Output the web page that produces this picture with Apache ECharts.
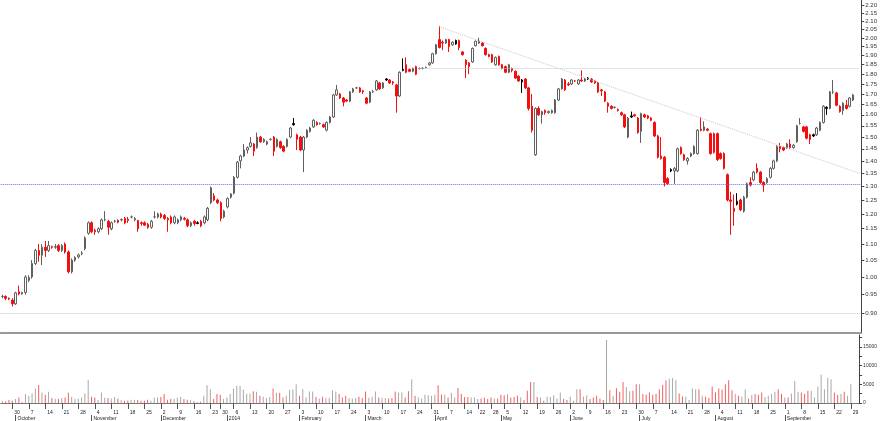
<!DOCTYPE html>
<html>
<head>
<meta charset="utf-8">
<script src="https://cdn.jsdelivr.net/npm/echarts@6/dist/echarts.min.js"></script>
<style>
html,body{margin:0;padding:0;background:#fff;}
#chart{width:880px;height:421px;}
</style>
</head>
<body>
<div id="chart"></div>
<script>
// ---- categories: trading days (weekdays minus exchange holidays) ----
const startDate = '2013-09-25';
const endDate = '2014-10-01';
const holidays = ['2013-12-25','2013-12-26','2014-01-01','2014-04-18','2014-04-21','2014-05-01'];
const monthNames = ['2014','February','March','April','May','June','July','August','September','October','November','December'];

// ---- price data: [open, close, low, high] ----
const ohlc = [
[0.945,0.945,0.94,0.95],[0.945,0.94,0.935,0.948],[0.94,0.938,0.935,0.942],[0.935,0.925,0.918,0.94],[0.925,0.955,0.922,0.958],
[0.958,0.952,0.948,0.975],[0.952,0.956,0.95,0.958],[0.956,1.0,0.95,1.005],[0.99,0.998,0.985,1.005],[1.0,1.04,0.995,1.05],
[1.04,1.08,1.035,1.085],[1.08,1.065,1.045,1.1],[1.065,1.09,1.035,1.1],[1.09,1.08,1.06,1.11],[1.08,1.095,1.075,1.11],
[1.092,1.09,1.085,1.095],[1.09,1.092,1.085,1.1],[1.095,1.08,1.075,1.1],[1.08,1.095,1.075,1.1],[1.1,1.075,1.07,1.105],
[1.075,1.015,1.01,1.08],[1.015,1.05,1.01,1.055],[1.05,1.058,1.045,1.062],[1.06,1.066,1.055,1.07],[1.07,1.072,1.065,1.078],
[1.085,1.12,1.08,1.125],[1.135,1.17,1.13,1.175],[1.17,1.14,1.135,1.175],[1.145,1.14,1.13,1.15],[1.14,1.15,1.135,1.155],
[1.15,1.18,1.145,1.185],[1.18,1.181,1.175,1.21],[1.175,1.155,1.13,1.18],[1.15,1.17,1.145,1.175],[1.175,1.176,1.17,1.18],
[1.178,1.172,1.168,1.182],[1.18,1.181,1.175,1.185],[1.185,1.17,1.165,1.19],[1.182,1.178,1.17,1.19],[1.19,1.19,1.185,1.195],
[1.18,1.185,1.175,1.19],[1.178,1.15,1.14,1.18],[1.17,1.168,1.16,1.175],[1.17,1.162,1.16,1.175],[1.165,1.155,1.15,1.17],
[1.155,1.175,1.15,1.18],[1.19,1.19,1.185,1.21],[1.19,1.2,1.185,1.205],[1.2,1.19,1.185,1.205],[1.195,1.185,1.18,1.2],
[1.185,1.18,1.14,1.19],[1.19,1.17,1.165,1.195],[1.17,1.19,1.165,1.195],[1.17,1.18,1.165,1.185],[1.18,1.19,1.175,1.195],
[1.185,1.182,1.178,1.19],[1.18,1.16,1.155,1.185],[1.16,1.17,1.155,1.175],[1.175,1.168,1.16,1.18],[1.17,1.168,1.165,1.175],
[1.175,1.16,1.155,1.18],[1.17,1.19,1.165,1.195],[1.18,1.22,1.175,1.225],[1.24,1.295,1.235,1.30],[1.265,1.25,1.245,1.275],
[1.25,1.24,1.235,1.255],[1.24,1.185,1.175,1.245],[1.19,1.21,1.185,1.215],[1.225,1.255,1.22,1.26],[1.26,1.272,1.255,1.275],
[1.275,1.335,1.27,1.34],[1.335,1.395,1.33,1.40],[1.40,1.42,1.37,1.425],[1.42,1.445,1.415,1.47],[1.445,1.455,1.43,1.46],
[1.46,1.475,1.455,1.50],[1.47,1.44,1.42,1.475],[1.455,1.50,1.45,1.52],[1.50,1.48,1.475,1.505],[1.48,1.49,1.475,1.495],
[1.47,1.48,1.465,1.485],[1.49,1.49,1.485,1.495],[1.50,1.44,1.42,1.505],[1.46,1.49,1.455,1.495],[1.48,1.455,1.45,1.485],
[1.46,1.44,1.435,1.465],[1.46,1.49,1.455,1.495],[1.50,1.54,1.495,1.545],[1.56,1.555,1.55,1.585],[1.49,1.51,1.445,1.515],
[1.50,1.445,1.44,1.505],[1.445,1.50,1.355,1.505],[1.50,1.53,1.495,1.535],[1.525,1.54,1.52,1.545],[1.545,1.575,1.54,1.58],
[1.565,1.555,1.55,1.57],[1.56,1.56,1.555,1.565],[1.555,1.545,1.54,1.56],[1.53,1.565,1.525,1.57],[1.565,1.59,1.56,1.595],
[1.59,1.695,1.585,1.70],[1.695,1.72,1.69,1.745],[1.70,1.68,1.675,1.705],[1.68,1.66,1.64,1.685],[1.67,1.665,1.66,1.675],
[1.665,1.71,1.66,1.715],[1.71,1.725,1.705,1.73],[1.73,1.73,1.725,1.735],[1.73,1.71,1.705,1.735],[1.715,1.71,1.70,1.72],
[1.68,1.655,1.65,1.685],[1.66,1.71,1.655,1.715],[1.71,1.712,1.705,1.72],[1.72,1.765,1.715,1.77],[1.755,1.725,1.72,1.76],
[1.73,1.755,1.725,1.76],[1.775,1.77,1.765,1.78],[1.77,1.755,1.75,1.775],[1.76,1.755,1.745,1.765],[1.745,1.69,1.61,1.75],
[1.69,1.81,1.685,1.815],[1.825,1.82,1.815,1.885],[1.85,1.81,1.805,1.89],[1.825,1.815,1.81,1.83],[1.815,1.83,1.81,1.835],
[1.84,1.80,1.795,1.845],[1.83,1.83,1.825,1.835],[1.83,1.832,1.825,1.835],[1.835,1.835,1.83,1.84],[1.85,1.86,1.845,1.865],
[1.86,1.91,1.855,1.915],[1.91,1.96,1.905,1.965],[1.99,1.945,1.94,2.07],[1.975,1.97,1.93,1.985],[1.97,1.99,1.965,1.995],
[1.99,1.95,1.92,1.995],[1.96,1.975,1.955,1.98],[1.985,1.965,1.96,1.99],[1.985,1.945,1.93,1.99],[1.92,1.905,1.90,1.925],
[1.875,1.85,1.78,1.88],[1.86,1.84,1.80,1.865],[1.865,1.94,1.86,1.945],[1.955,1.98,1.95,1.985],[1.97,1.98,1.965,2.0],
[1.97,1.955,1.95,1.975],[1.94,1.905,1.90,1.945],[1.905,1.895,1.89,1.91],[1.905,1.865,1.86,1.91],[1.85,1.89,1.845,1.895],
[1.895,1.85,1.845,1.90],[1.85,1.83,1.825,1.855],[1.84,1.81,1.805,1.845],[1.81,1.85,1.805,1.855],[1.83,1.82,1.81,1.835],
[1.815,1.78,1.775,1.82],[1.79,1.765,1.76,1.795],[1.77,1.76,1.705,1.775],[1.775,1.73,1.725,1.78],[1.73,1.63,1.62,1.735],
[1.64,1.53,1.52,1.70],[1.425,1.63,1.42,1.635],[1.63,1.60,1.595,1.64],[1.60,1.615,1.56,1.62],[1.62,1.61,1.60,1.625],
[1.61,1.615,1.605,1.62],[1.61,1.62,1.605,1.625],[1.61,1.67,1.605,1.675],[1.67,1.725,1.665,1.73],[1.725,1.775,1.72,1.78],
[1.77,1.72,1.715,1.775],[1.75,1.745,1.74,1.76],[1.75,1.77,1.745,1.775],[1.765,1.765,1.76,1.77],[1.75,1.77,1.745,1.775],
[1.77,1.765,1.76,1.82],[1.765,1.775,1.76,1.78],[1.78,1.775,1.77,1.785],[1.775,1.76,1.755,1.78],[1.765,1.755,1.75,1.77],
[1.755,1.71,1.705,1.76],[1.72,1.715,1.69,1.725],[1.71,1.665,1.66,1.715],[1.64,1.655,1.61,1.66],[1.64,1.63,1.625,1.645],
[1.635,1.635,1.63,1.64],[1.625,1.62,1.615,1.63],[1.61,1.60,1.595,1.615],[1.60,1.545,1.54,1.605],[1.50,1.585,1.495,1.59],
[1.595,1.59,1.585,1.615],[1.60,1.595,1.59,1.605],[1.585,1.52,1.515,1.59],[1.525,1.605,1.475,1.61],[1.60,1.59,1.585,1.605],
[1.595,1.585,1.58,1.60],[1.585,1.575,1.57,1.59],[1.565,1.505,1.50,1.57],[1.505,1.415,1.41,1.51],[1.42,1.41,1.405,1.50],
[1.415,1.315,1.30,1.42],[1.33,1.31,1.305,1.335],[1.365,1.36,1.355,1.37],[1.36,1.37,1.31,1.375],[1.36,1.45,1.355,1.455],
[1.455,1.43,1.425,1.46],[1.425,1.405,1.40,1.43],[1.40,1.41,1.385,1.415],[1.42,1.43,1.415,1.435],[1.43,1.46,1.425,1.465],
[1.43,1.53,1.425,1.535],[1.535,1.53,1.525,1.59],[1.53,1.545,1.525,1.57],[1.535,1.53,1.525,1.54],[1.515,1.43,1.425,1.52],
[1.515,1.435,1.43,1.52],[1.515,1.405,1.40,1.52],[1.43,1.41,1.405,1.435],[1.43,1.37,1.365,1.435],[1.345,1.25,1.245,1.35],
[1.25,1.245,1.13,1.28],[1.22,1.21,1.16,1.27],[1.245,1.235,1.23,1.275],[1.25,1.215,1.21,1.255],[1.21,1.26,1.205,1.265],
[1.26,1.31,1.255,1.315],[1.315,1.305,1.30,1.335],[1.325,1.355,1.32,1.36],[1.37,1.355,1.35,1.39],[1.355,1.315,1.31,1.36],
[1.315,1.305,1.28,1.32],[1.315,1.33,1.31,1.335],[1.335,1.37,1.33,1.375],[1.37,1.40,1.365,1.405],[1.40,1.46,1.395,1.465],
[1.46,1.45,1.435,1.475],[1.455,1.445,1.44,1.46],[1.455,1.47,1.45,1.475],[1.47,1.455,1.45,1.49],[1.455,1.465,1.45,1.47],
[1.48,1.55,1.475,1.555],[1.56,1.56,1.555,1.585],[1.545,1.525,1.52,1.55],[1.545,1.495,1.49,1.55],[1.51,1.49,1.47,1.515],
[1.51,1.505,1.50,1.515],[1.51,1.54,1.505,1.545],[1.53,1.565,1.525,1.57],[1.565,1.64,1.56,1.645],[1.635,1.63,1.60,1.64],
[1.63,1.71,1.625,1.715],[1.71,1.71,1.70,1.77],[1.705,1.645,1.64,1.71],[1.64,1.615,1.61,1.645],[1.62,1.655,1.60,1.66],
[1.645,1.63,1.625,1.67],[1.64,1.68,1.635,1.685],[1.67,1.695,1.665,1.70]
];

// ---- volume ----
const volume = [
615,440,790,615,1050,1490,350,2370,1930,2540,3860,4820,2800,2190,2980,1315,1140,1140,1315,1490,
2720,1580,1140,1140,1400,2630,6140,1670,1490,790,2800,1400,1315,1230,1580,1230,790,615,700,880,
790,790,615,700,880,615,1490,1490,1580,2370,880,1050,1050,1400,1580,1050,880,790,440,350,
350,1930,4730,3680,1050,2370,2190,1050,1490,2370,3860,4560,4560,3600,2450,2540,3160,2980,1930,1670,
1315,1580,3860,2720,2720,1490,1930,3510,3680,5000,
1930,3680,1490,3070,3070,1580,1140,1670,1400,1400,
3420,3070,2370,1490,1930,1315,1230,1315,1670,1315,
3070,1400,1670,3070,1490,1400,1315,1230,1315,3070,
2800,2800,1490,3160,6310,1930,1490,1230,2190,2100,
1930,2280,4730,2190,2190,1490,2720,1490,4030,2370,
1580,1580,1490,1490,1050,1230,1400,1050,1490,1230,
1230,2190,2100,2370,1490,1580,1930,1490,790,3240,
5610,5610,1580,1490,615,1670,1580,2100,1230,2800,
1050,790,1670,615,3680,
3680,1750,2100,1050,1490,1930,1230,790,16830,3420,
1930,3950,2980,5610,4300,3160,3240,5000,5000,2370,
2280,2800,2190,2370,3680,4820,6050,6490,6580,6050,
2540,1750,1670,790,3860,3680,3680,1930,1670,1315,
4380,2800,3860,3510,5000,6050,3420,2370,1930,1670,
3600,1230,2190,2370,2190,2800,1580,1930,2370,2980,
3680,2370,1490,1490,2540,5870,2980,2800,2370,3240,
3240,1490,4380,7630,3680,6750,6310,2800,2190,2370,
2980,1930,5000
];

// ---- tick labels ----
const priceTicks = [0.90,0.95,1.00,1.05,1.10,1.15,1.20,1.25,1.30,1.35,1.40,1.45,1.50,1.55,1.60,1.65,1.70,1.75,1.80,1.85,1.90,1.95,2.00,2.05,2.10,2.15,2.20];
const volumeTicks = [0,5000,10000,15000];
const volumeMinorTicks = [0,2500,5000,7500,10000,12500,15000,17500];

// ---- annotations (data space) ----
const blackCandles = [59,88,116,121,137,157,177,190,202,222,245,249];
const hollowRedCandles = [89,183];
const trendLine = [['2014-04-02',2.065],['2014-10-01',1.35]];
const resistance = [['2014-03-25',1.83],['2014-10-01',1.83]];
const supportLevel = 1.31;
const baseLevel = 0.90;

// build categories
function fmt(d){return d.toISOString().slice(0,10);}
const dates = [];
for (let t = new Date(startDate+'T00:00:00Z'); fmt(t) <= endDate; t = new Date(t.getTime()+86400000)) {
  const wd = t.getUTCDay();
  if (wd === 0 || wd === 6) continue;
  if (holidays.indexOf(fmt(t)) >= 0) continue;
  dates.push(fmt(t));
}
function dow(s){return new Date(s+'T00:00:00Z').getUTCDay();}
function isWeekStart(i){ if(i===0 || i>=ohlc.length) return false; return dow(dates[i]) <= dow(dates[i-1]); }
function isMonthStart(i){ if(i===0 || i>=ohlc.length) return false; return dates[i].slice(5,7) !== dates[i-1].slice(5,7); }

const RED = '#f01010', GREY = '#606060';
const candleData = ohlc.map((v, i) => {
  if (blackCandles.indexOf(i) >= 0) return {value: v, itemStyle: {color: '#000', color0: '#000', borderColor: '#000', borderColor0: '#000'}};
  if (hollowRedCandles.indexOf(i) >= 0) return {value: v, itemStyle: {color: '#fff', borderColor: RED}};
  return v;
});

const chart = echarts.init(document.getElementById('chart'), null, {renderer: 'canvas'});
const option = {
  animation: false,
  backgroundColor: '#ffffff',
  textStyle: {fontFamily: 'Liberation Sans'},
  grid: [
    {left: 0.7, width: 862, top: 0, height: 333},
    {left: 0.7, width: 862, top: 335, height: 69}
  ],
  xAxis: [
    {type: 'category', gridIndex: 0, data: dates, boundaryGap: true,
     axisLine: {show: true, lineStyle: {color: '#999', width: 2}}, axisTick: {show: false}, axisLabel: {show: false}, splitLine: {show: false}},
    {type: 'category', gridIndex: 1, data: dates, boundaryGap: true, position: 'bottom', offset: 6,
     axisLine: {show: true, lineStyle: {color: '#777', width: 1}},
     axisTick: {show: true, alignWithLabel: true, interval: (i) => isWeekStart(i), length: 6, lineStyle: {color: '#555'}},
     axisLabel: {show: true, interval: (i) => isWeekStart(i), formatter: (v) => String(+v.slice(8,10)), fontSize: 5, color: '#222', align: 'left', margin: 1, padding: [0,0,0,2]},
     splitLine: {show: false}},
    {type: 'category', gridIndex: 1, data: dates, boundaryGap: true, position: 'bottom', offset: 12,
     axisLine: {show: false},
     axisTick: {show: true, alignWithLabel: true, interval: (i) => isMonthStart(i), length: 6, lineStyle: {color: '#555'}},
     axisLabel: {show: true, interval: (i) => isMonthStart(i), formatter: (v) => monthNames[+v.slice(5,7) - 1], fontSize: 5, color: '#222', align: 'left', margin: 1, padding: [0,0,0,2]},
     splitLine: {show: false}}
  ],
  yAxis: [
    {type: 'log', logBase: 10, gridIndex: 0, position: 'right', min: 0.85, max: 2.232,
     axisLine: {show: true, lineStyle: {color: '#444'}},
     axisTick: {show: true, customValues: priceTicks, length: 3, lineStyle: {color: '#444'}},
     axisLabel: {show: true, customValues: priceTicks, formatter: (v) => (+v).toFixed(2), fontSize: 6, color: '#333', margin: 4},
     splitLine: {show: false}},
    {type: 'value', gridIndex: 1, position: 'right', min: 0, max: 18150,
     axisLine: {show: true, lineStyle: {color: '#444'}},
     axisTick: {show: true, customValues: volumeMinorTicks, length: 3, lineStyle: {color: '#444'}},
     axisLabel: {show: true, customValues: volumeTicks, formatter: (v) => String(v), fontSize: 5, color: '#333', margin: 4},
     splitLine: {show: false}}
  ],
  series: [
    {type: 'candlestick', xAxisIndex: 0, yAxisIndex: 0, data: candleData, barWidth: 2,
     itemStyle: {color: '#ffffff', color0: RED, borderColor: GREY, borderColor0: RED, borderWidth: 1},
     markLine: {silent: true, symbol: 'none', label: {show: false},
       data: [
         [{coord: trendLine[0], lineStyle: {color: '#c8c8c8', type: 'dotted', width: 1}}, {coord: trendLine[1]}],
         [{coord: resistance[0], lineStyle: {color: '#c8c8c8', type: 'dotted', width: 1}}, {coord: resistance[1]}],
         {yAxis: supportLevel, lineStyle: {color: '#6a6af0', type: 'dotted', width: 1}},
         {yAxis: baseLevel, lineStyle: {color: '#c8c8c8', type: 'dotted', width: 1}}
       ]}},
    {type: 'bar', xAxisIndex: 1, yAxisIndex: 1, data: volume, barWidth: 1,
     itemStyle: {color: (p) => { const v = ohlc[p.dataIndex]; if (blackCandles.indexOf(p.dataIndex) >= 0) return '#a8a8a8'; return v[1] < v[0] ? '#f06060' : '#a8a8a8'; }}}
  ]
};
chart.setOption(option);
</script>
</body>
</html>
